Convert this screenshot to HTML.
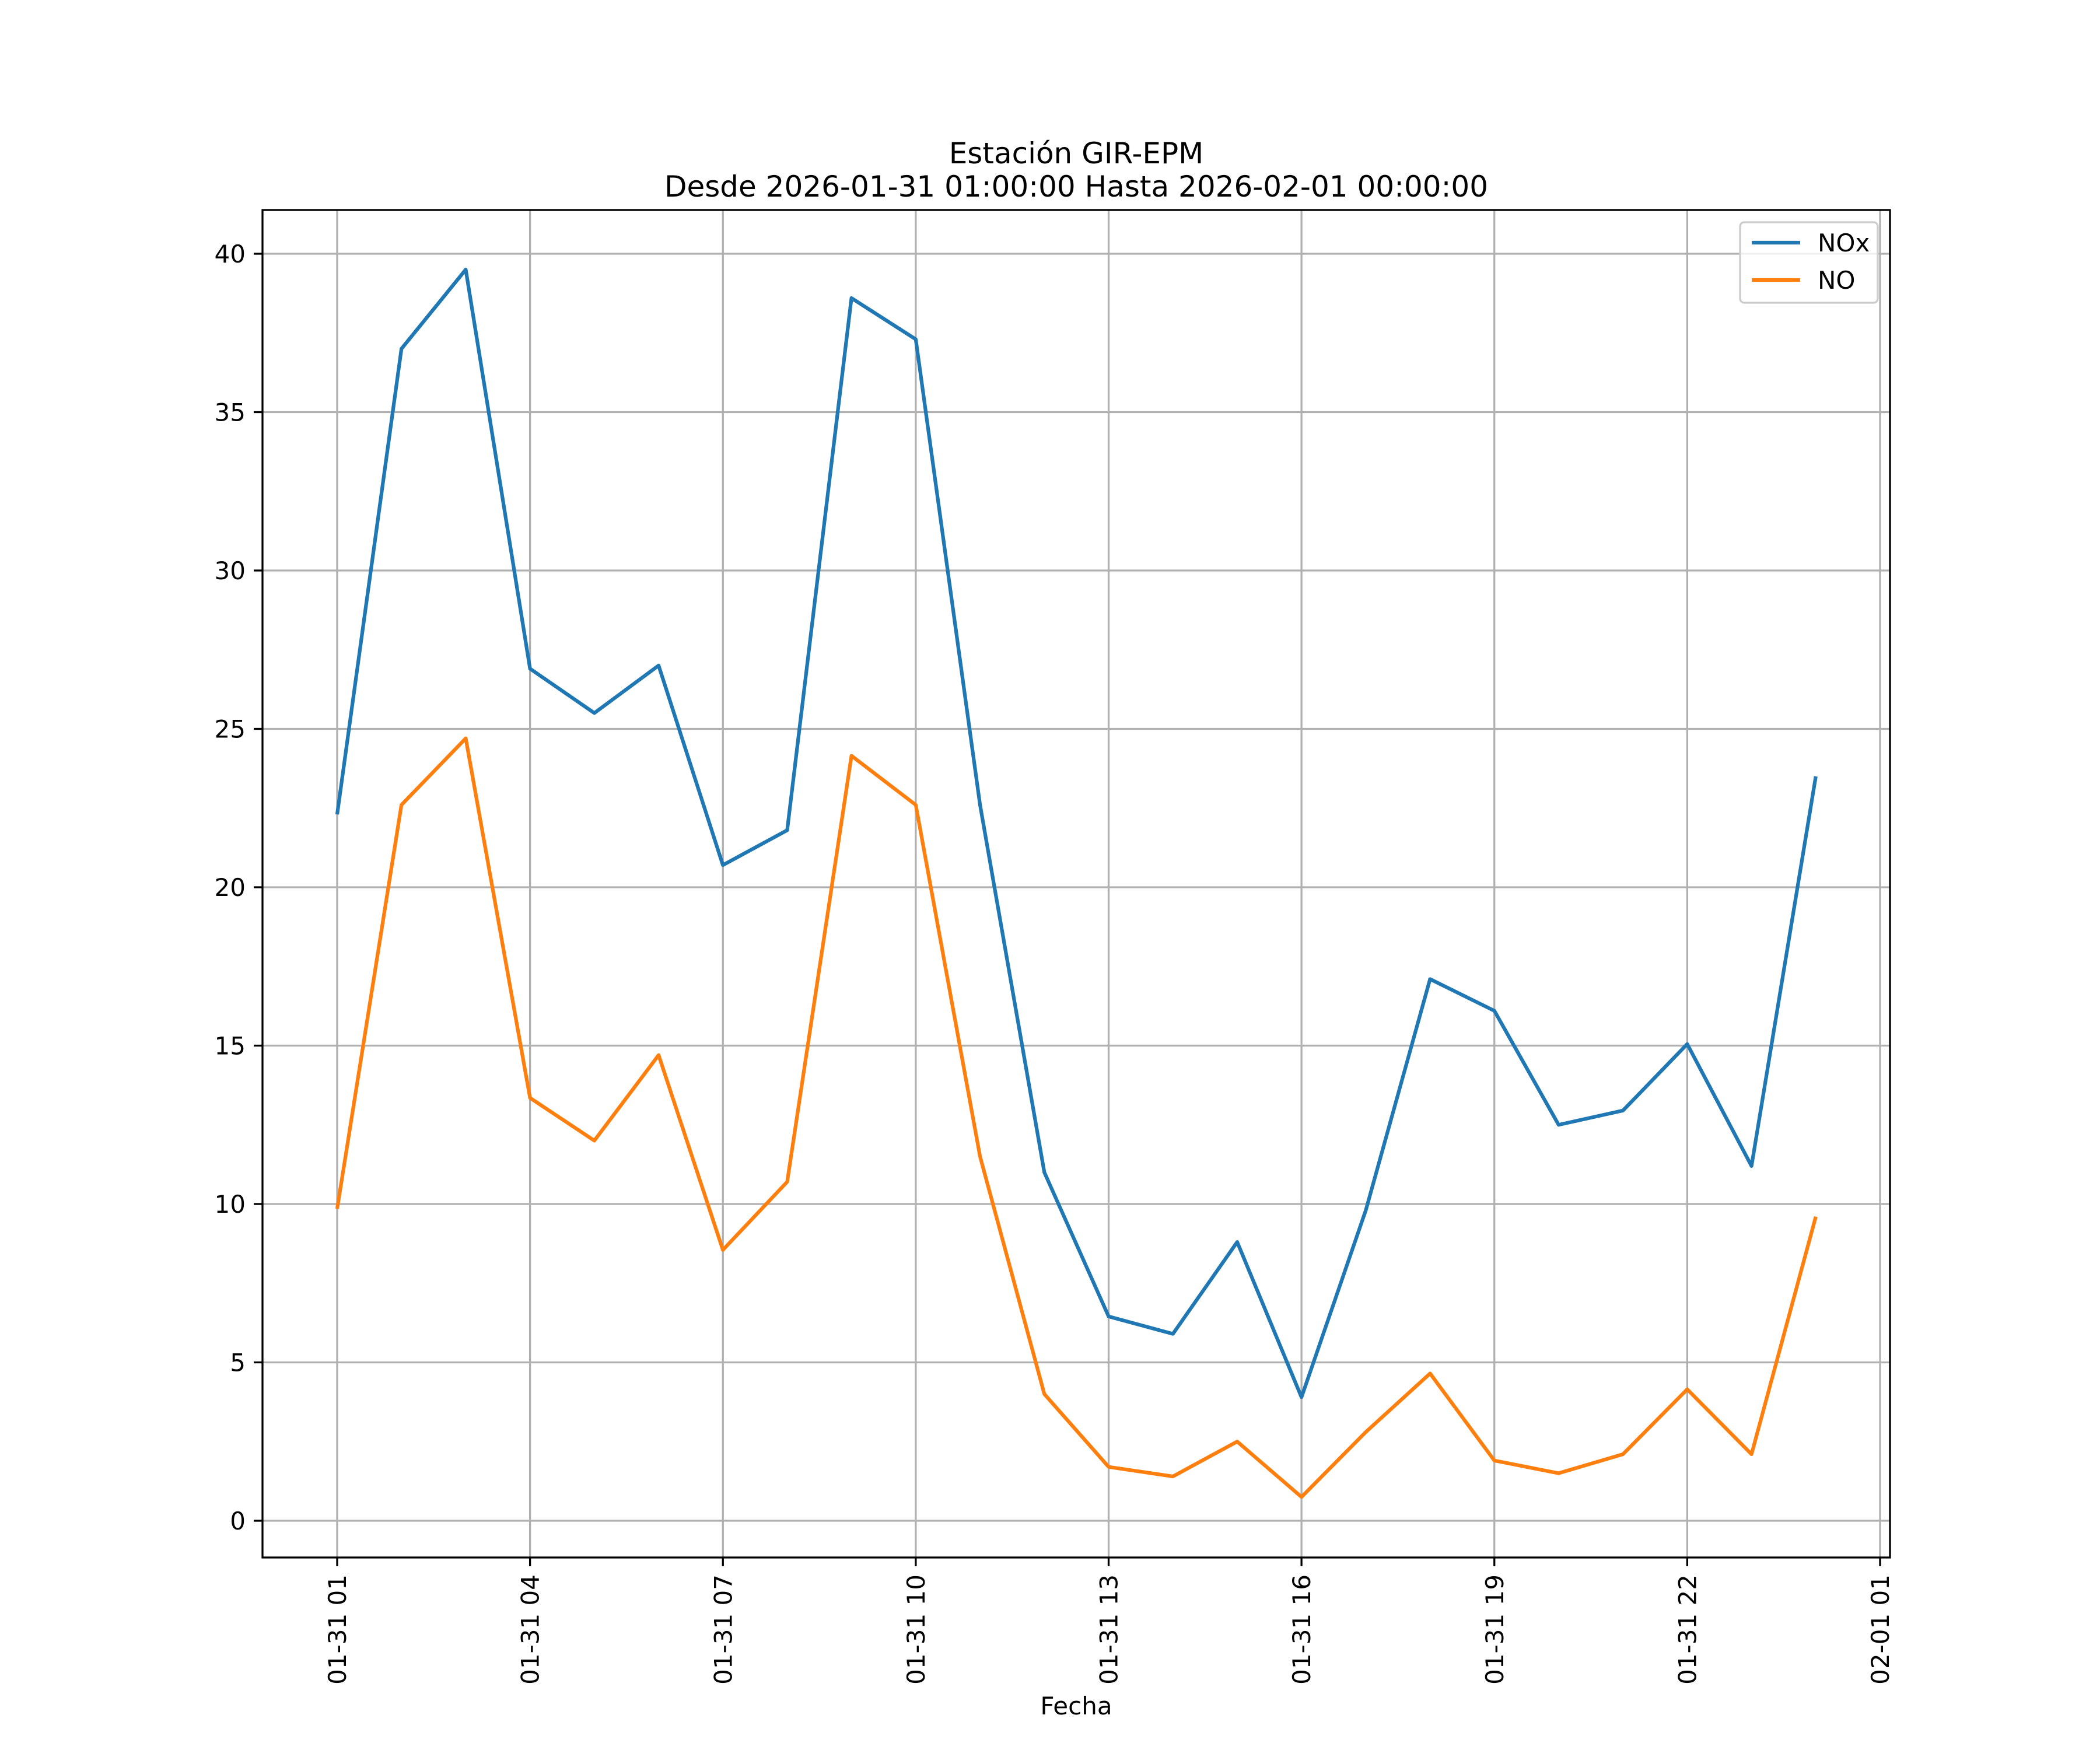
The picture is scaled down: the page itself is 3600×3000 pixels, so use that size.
<!DOCTYPE html>
<html><head><meta charset="utf-8"><style>
html,body{margin:0;padding:0;background:#fff;}
svg{display:block;font-family:"DejaVu Sans","Liberation Sans",sans-serif;}
</style></head><body>
<svg id="chart" width="3600" height="3000" viewBox="0 0 3600 3000" xmlns="http://www.w3.org/2000/svg">
<rect width="3600" height="3000" fill="#fff"/>
<g id="grid"></g>
<g id="series"></g>
<rect x="450" y="360" width="2790" height="2310" fill="none" stroke="#000" stroke-width="3.3"/>
<g id="axes"></g>
<text x="1845" y="280" font-size="50" text-anchor="middle">Estación GIR-EPM</text>
<text x="1845" y="337" font-size="50" text-anchor="middle">Desde 2026-01-31 01:00:00 Hasta 2026-02-01 00:00:00</text>
<text x="1845" y="2939" font-size="42" text-anchor="middle">Fecha</text>
<g>
<rect x="2983" y="381" width="236" height="138" rx="7" fill="#fff" fill-opacity="0.8" stroke="#ccc" stroke-width="3.3"/>
<line x1="3003" y1="416" x2="3086" y2="416" stroke="#1f77b4" stroke-width="6.25"/>
<text x="3116" y="431" font-size="42">NOx</text>
<line x1="3003" y1="480" x2="3086" y2="480" stroke="#ff7f0e" stroke-width="6.25"/>
<text x="3116" y="495" font-size="42">NO</text>
</g>
</svg>
<script>
const hours = [1,2,3,4,5,6,7,8,9,10,11,12,13,14,15,16,17,18,19,20,21,22,23,24];
const noxValues = [22.3,37.0,39.5,26.9,25.5,27.0,20.7,21.8,38.6,37.3,22.6,11.0,6.45,5.9,8.8,3.9,9.8,17.1,16.1,12.5,12.95,15.05,11.2,23.5];
const noValues = [9.85,22.6,24.7,13.35,12.0,14.7,8.55,10.7,24.15,22.6,11.5,4.0,1.7,1.4,2.5,0.75,2.8,4.65,1.9,1.5,2.1,4.15,2.1,9.6];
const yTicks = [0,5,10,15,20,25,30,35,40];
const xTickHours = [1,4,7,10,13,16,19,22,25];
const xTickLabels = ["01-31 01","01-31 04","01-31 07","01-31 10","01-31 13","01-31 16","01-31 19","01-31 22","02-01 01"];

const NS="http://www.w3.org/2000/svg";
function xs(h){return 578+(h-1)*(3223-578)/24;}
function ys(v){return 2607-v*(2607-435)/40;}
function mk(tag,attrs,parent){const e=document.createElementNS(NS,tag);for(const k in attrs)e.setAttribute(k,attrs[k]);parent.appendChild(e);return e;}
const grid=document.getElementById('grid'),axes=document.getElementById('axes'),series=document.getElementById('series');
yTicks.forEach(v=>{
  const y=ys(v);
  const g=mk('line',{x1:450,x2:3240,y1:y,y2:y,stroke:'#b0b0b0','stroke-width':3.3},grid);
  
  
  const t=mk('line',{x1:435,x2:450,y1:y,y2:y,stroke:'#000','stroke-width':3.3},axes);
  
  
  const l=mk('text',{x:421,y:y+15,'font-size':42,'text-anchor':'end'},axes);
  l.textContent=String(v);
  
  
});
xTickHours.forEach((h,i)=>{
  const x=xs(h);
  const g=mk('line',{x1:x,x2:x,y1:360,y2:2670,stroke:'#b0b0b0','stroke-width':3.3},grid);
  
  
  const t=mk('line',{x1:x,x2:x,y1:2670,y2:2685,stroke:'#000','stroke-width':3.3},axes);
  
  
  const l=mk('text',{x:x+15,y:2699,'font-size':42,'text-anchor':'end',transform:`rotate(-90 ${x+15} 2699)`},axes);
  l.textContent=xTickLabels[i];
  
  
});
function line(vals,color,name){
  const pts=vals.map((v,i)=>xs(hours[i])+','+ys(v)).join(' ');
  const p=mk('polyline',{points:pts,fill:'none',stroke:color,'stroke-width':6.25,'stroke-linejoin':'round'},series);
  
  
}
line(noxValues,'#1f77b4','nox-line');
line(noValues,'#ff7f0e','no-line');
</script>
</body></html>
